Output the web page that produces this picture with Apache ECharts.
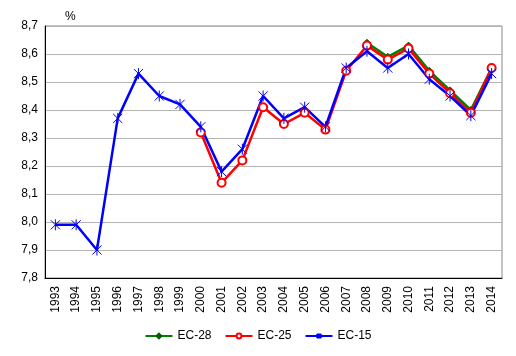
<!DOCTYPE html>
<html>
<head>
<meta charset="utf-8">
<script src="https://cdn.jsdelivr.net/npm/echarts@6/dist/echarts.min.js"></script>
<style>html,body{margin:0;padding:0;background:#fff}#c{width:516px;height:356px}</style>
</head>
<body>
<div id="c"></div>
<script>
var years = ['1993','1994','1995','1996','1997','1998','1999','2000','2001','2002','2003','2004','2005','2006','2007','2008','2009','2010','2011','2012','2013','2014'];
var ec28 = [null,null,null,null,null,null,null,null,null,null,null,null,null,null,null,8.64,8.59,8.63,8.54,8.47,8.40,8.55];
var ec25 = [null,null,null,null,null,null,null,8.32,8.14,8.22,8.41,8.35,8.39,8.33,8.54,8.63,8.58,8.62,8.53,8.46,8.39,8.55];
var ec15 = [7.99,7.99,7.90,8.37,8.53,8.45,8.42,8.34,8.18,8.26,8.45,8.37,8.41,8.34,8.55,8.61,8.55,8.60,8.51,8.45,8.38,8.53];
var yTicks = {min: 7.8, max: 8.7, interval: 0.1};

var star = 'path://M0,0L10,10M10,0L0,10M5,-1L5,11';
var chart = echarts.init(document.getElementById('c'));
chart.setOption({
  animation: false,
  textStyle: {fontFamily: 'Liberation Sans, Arial, sans-serif'},
  grid: {left: 45, right: 14, top: 26, bottom: 78, show: true, borderColor: '#888', borderWidth: 1},
  title: {text: '%', left: 60, top: 6, textStyle: {fontSize: 12, fontWeight: 'normal', color: '#000'}},
  legend: {
    bottom: 9, left: 'center', itemWidth: 27, itemHeight: 6, itemGap: 13,
    textStyle: {fontSize: 12, color: '#000'},
    data: ['EC-28', 'EC-25', 'EC-15']
  },
  xAxis: {
    type: 'category', data: years, boundaryGap: true,
    axisLine: {lineStyle: {color: '#000', width: 1}},
    axisTick: {show: false},
    axisLabel: {rotate: 90, fontSize: 12, color: '#000', margin: 8, interval: 0}
  },
  yAxis: {
    type: 'value', min: yTicks.min, max: yTicks.max, interval: yTicks.interval,
    axisLine: {show: true, lineStyle: {color: '#000', width: 1}},
    axisTick: {show: false},
    splitLine: {lineStyle: {color: '#b4b4b4', width: 1}},
    axisLabel: {fontSize: 12, color: '#000', margin: 7, formatter: function (v) { return v.toFixed(1).replace('.', ','); }}
  },
  series: [
    {name: 'EC-28', type: 'line', data: ec28, color: '#008000', symbol: 'diamond', symbolSize: 7,
     lineStyle: {width: 2.5, color: '#008000'}, itemStyle: {color: '#006000', borderColor: '#006000', borderWidth: 1}},
    {name: 'EC-25', type: 'line', data: ec25, color: '#ff0000', symbol: 'emptyCircle', symbolSize: 8,
     lineStyle: {width: 2.5, color: '#ff0000'}, itemStyle: {color: '#ff0000', borderColor: '#ff0000', borderWidth: 1}},
    {name: 'EC-15', type: 'line', data: ec15, color: '#0000ff', symbol: star, symbolSize: 11, symbolKeepAspect: true,
     lineStyle: {width: 2.5, color: '#0000ff'}, itemStyle: {color: 'none', borderColor: '#0000ff', borderWidth: 1}}
  ]
});
</script>
</body>
</html>
